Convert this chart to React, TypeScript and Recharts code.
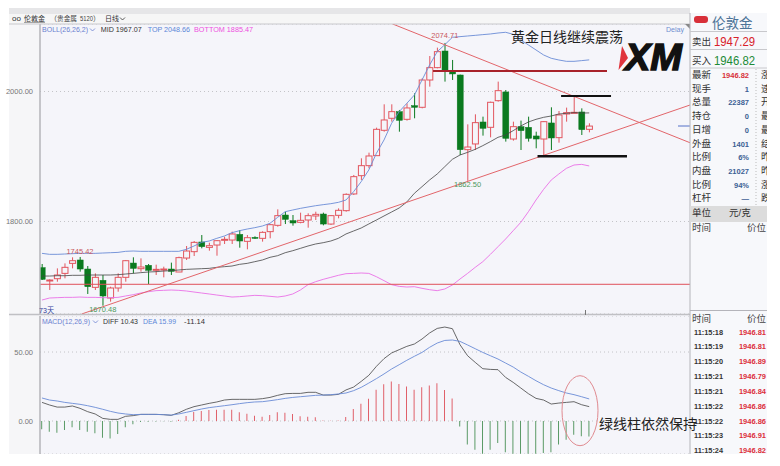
import React from 'react';
import {
    ComposedChart,
    Bar,
    Line,
    XAxis,
    YAxis,
    CartesianGrid,
    Cell,
    ReferenceLine,
    ReferenceDot
} from 'recharts';

// candles: open, high, low, close
const opens = [1729.0, 1709.5, 1712.0, 1720.2, 1735.6, 1740.8, 1726.9, 1698.7, 1709.5, 1682.3, 1697.7, 1714.1, 1736.1, 1727.4, 1732.6, 1724.9, 1725.4, 1726.9, 1722.3, 1743.8, 1753.6, 1768.5, 1760.2, 1763.8, 1771.5, 1771.5, 1780.2, 1769.5, 1775.6, 1774.1, 1784.4, 1794.1, 1810.0, 1801.3, 1798.7, 1802.3, 1808.5, 1811.5, 1796.1, 1809.5, 1816.7, 1842.4, 1870.5, 1885.9, 1901.3, 1940.3, 1958.8, 1969.0, 1957.2, 1978.2, 1975.7, 2017.7, 2036.7, 2062.3, 2031.6, 2025.4, 1910.5, 1919.3, 1953.1, 1944.9, 1985.9, 1999.3, 1926.9, 1945.9, 1944.9, 1931.6, 1926.9, 1951.6, 1929.0, 1965.4, 1966.4, 1968.5, 1941.8];
const highs = [1734.6, 1711.0, 1727.9, 1735.6, 1744.9, 1745.42, 1731.5, 1720.2, 1717.7, 1699.7, 1720.2, 1740.8, 1744.9, 1743.3, 1734.6, 1733.6, 1730.5, 1736.7, 1745.9, 1762.3, 1770.0, 1779.2, 1767.4, 1771.5, 1776.7, 1784.4, 1786.9, 1779.2, 1777.2, 1784.9, 1796.1, 1818.7, 1815.1, 1810.0, 1813.6, 1812.6, 1815.1, 1813.6, 1810.0, 1820.2, 1843.3, 1871.6, 1897.2, 1905.9, 1944.4, 1980.3, 1980.3, 1971.6, 1981.8, 1997.2, 2020.3, 2054.6, 2067.5, 2074.71, 2048.5, 2026.0, 1949.5, 1964.9, 1961.3, 1984.4, 2015.2, 2002.3, 1953.6, 1955.2, 1961.3, 1938.2, 1954.6, 1975.7, 1970.0, 1975.2, 1993.1, 1974.1, 1951.1];
const lows = [1710.0, 1694.6, 1707.4, 1712.6, 1727.9, 1722.8, 1688.5, 1694.6, 1670.48, 1676.7, 1692.0, 1707.4, 1720.2, 1722.8, 1703.8, 1717.7, 1714.1, 1717.7, 1722.3, 1740.8, 1746.9, 1758.7, 1755.1, 1747.4, 1765.4, 1765.4, 1759.7, 1757.2, 1773.1, 1769.0, 1774.1, 1792.0, 1796.1, 1793.6, 1797.2, 1790.5, 1802.3, 1794.1, 1794.6, 1804.9, 1815.1, 1840.8, 1863.9, 1881.8, 1900.8, 1938.2, 1953.6, 1938.2, 1955.2, 1958.8, 1974.1, 2007.5, 2035.7, 2015.2, 2017.7, 1902.3, 1862.5, 1910.0, 1932.1, 1929.5, 1984.4, 1922.9, 1924.4, 1910.0, 1922.9, 1912.6, 1902.3, 1910.0, 1921.3, 1953.6, 1966.4, 1933.1, 1937.2];
const closes = [1711.0, 1710.0, 1717.7, 1729.5, 1739.7, 1726.9, 1699.7, 1714.1, 1685.4, 1697.7, 1714.1, 1739.7, 1727.9, 1730.0, 1724.9, 1726.4, 1726.9, 1723.3, 1744.4, 1754.6, 1767.9, 1761.3, 1762.8, 1770.5, 1772.6, 1780.8, 1770.0, 1775.1, 1774.1, 1783.3, 1795.1, 1809.0, 1803.3, 1797.7, 1801.8, 1809.0, 1811.0, 1796.1, 1809.0, 1817.2, 1841.8, 1869.0, 1885.9, 1900.8, 1941.8, 1956.2, 1969.0, 1955.7, 1974.7, 1975.7, 2017.7, 2036.7, 2061.3, 2031.6, 2027.0, 1910.5, 1914.6, 1952.1, 1943.4, 1983.4, 2001.3, 1928.0, 1945.9, 1939.8, 1928.0, 1926.9, 1953.6, 1928.5, 1963.9, 1967.5, 1968.0, 1941.3, 1946.82];

// bollinger bands
const bollTop = [1751.0, 1749.5, 1749.5, 1750.0, 1750.5, 1751.0, 1751.0, 1751.0, 1751.5, 1752.0, 1752.5, 1754.1, 1754.6, 1754.1, 1754.1, 1754.1, 1754.1, 1754.1, 1754.1, 1757.2, 1762.3, 1767.9, 1770.0, 1774.1, 1777.7, 1782.8, 1785.9, 1788.4, 1790.5, 1793.1, 1797.2, 1806.4, 1815.1, 1817.7, 1820.2, 1822.3, 1824.3, 1825.9, 1827.4, 1829.5, 1833.1, 1845.9, 1861.3, 1879.3, 1904.9, 1925.4, 1951.1, 1969.0, 1981.8, 1994.6, 2017.7, 2040.8, 2061.3, 2072.0, 2083.4, 2084.4, 2085.4, 2086.4, 2087.5, 2088.5, 2090.0, 2091.1, 2088.0, 2079.3, 2071.6, 2063.9, 2056.2, 2051.1, 2048.5, 2046.4, 2046.4, 2047.5, 2048.66];
const bollMid = [1716.1, 1716.1, 1716.6, 1716.6, 1717.2, 1717.2, 1717.7, 1717.7, 1717.7, 1717.7, 1718.2, 1719.2, 1720.2, 1721.3, 1722.3, 1722.8, 1723.8, 1724.4, 1725.4, 1726.4, 1726.9, 1727.4, 1727.9, 1729.5, 1730.5, 1731.5, 1734.1, 1735.6, 1738.2, 1740.8, 1744.9, 1747.4, 1752.0, 1755.1, 1758.7, 1762.3, 1765.4, 1767.4, 1770.0, 1774.1, 1780.8, 1785.4, 1790.0, 1796.2, 1802.3, 1808.5, 1814.6, 1820.8, 1830.0, 1843.4, 1853.6, 1863.9, 1873.1, 1884.4, 1895.7, 1902.3, 1906.4, 1911.0, 1916.7, 1922.9, 1929.5, 1933.1, 1939.8, 1947.0, 1953.1, 1957.2, 1960.3, 1962.3, 1965.4, 1966.4, 1967.5, 1966.9, 1967.07];
const bollBottom = [1679.2, 1682.3, 1682.8, 1683.3, 1683.3, 1683.8, 1683.3, 1683.3, 1682.8, 1682.8, 1683.3, 1685.4, 1687.4, 1690.0, 1692.0, 1693.6, 1694.1, 1694.6, 1694.1, 1693.1, 1691.5, 1690.0, 1688.5, 1686.9, 1685.4, 1683.8, 1684.4, 1685.4, 1686.4, 1685.9, 1684.9, 1683.8, 1685.4, 1688.5, 1694.6, 1702.8, 1707.4, 1711.0, 1714.1, 1717.2, 1719.7, 1720.2, 1720.8, 1720.2, 1715.1, 1709.0, 1702.8, 1700.2, 1699.2, 1699.7, 1697.2, 1695.1, 1693.6, 1696.2, 1702.3, 1711.5, 1720.2, 1729.5, 1738.2, 1749.5, 1761.3, 1773.1, 1785.9, 1798.7, 1815.1, 1833.1, 1849.5, 1863.8, 1873.1, 1881.8, 1886.9, 1887.9, 1885.47];

// macd
const diff = [13.5, 11.6, 10.1, 10.1, 10.9, 9.2, 6.8, 5.1, 1.9, 1.2, 1.2, 3.4, 3.9, 4.8, 4.8, 4.8, 4.6, 4.1, 6.0, 8.5, 10.4, 11.6, 12.8, 13.8, 15.2, 15.7, 15.7, 15.7, 15.7, 16.2, 17.1, 18.6, 19.8, 20.0, 20.0, 20.8, 20.8, 18.8, 18.8, 19.3, 22.5, 24.6, 28.7, 33.1, 39.6, 45.2, 49.3, 51.7, 54.1, 55.8, 59.4, 63.8, 67.1, 68.1, 66.9, 55.3, 47.3, 42.5, 37.9, 37.4, 37.2, 31.6, 28.0, 23.9, 19.8, 16.4, 15.2, 12.3, 13.0, 13.5, 14.0, 11.8, 10.43];
const dea = [16.7, 15.2, 14.5, 13.5, 12.8, 12.1, 11.1, 9.9, 8.5, 7.0, 5.8, 5.1, 4.6, 4.8, 4.8, 4.8, 4.6, 4.3, 5.1, 6.3, 7.5, 8.7, 9.7, 10.4, 11.1, 11.8, 12.6, 13.3, 13.8, 14.0, 14.7, 15.5, 16.4, 17.1, 17.6, 18.1, 18.6, 18.8, 19.1, 19.6, 20.3, 22.0, 24.4, 27.5, 30.7, 34.1, 37.7, 40.8, 44.0, 46.9, 49.7, 53.4, 56.5, 58.4, 58.7, 57.7, 55.1, 52.4, 49.7, 47.3, 44.9, 42.0, 39.1, 35.5, 32.4, 29.2, 26.3, 23.9, 22.0, 20.3, 19.1, 17.6, 15.99];
const macdHist = [-6.0, -7.7, -8.5, -6.5, -4.6, -6.5, -7.7, -8.9, -12.1, -12.6, -9.4, -4.6, -2.4, -0.7, -0.5, -0.3, -0.2, -0.6, 1.0, 3.6, 6.5, 7.2, 8.0, 8.2, 8.2, 8.2, 6.3, 5.3, 3.9, 3.1, 4.3, 6.3, 6.0, 5.1, 3.4, 3.1, 2.7, 0.3, 0.2, 0.3, 2.9, 8.7, 12.6, 16.2, 22.7, 26.6, 28.7, 26.8, 25.1, 22.7, 24.4, 25.8, 27.3, 22.5, 16.4, -3.9, -17.1, -20.8, -23.7, -20.8, -15.9, -22.7, -23.7, -23.7, -23.7, -23.7, -23.2, -22.7, -17.1, -13.5, -9.9, -11.1, -11.14];

const priceTicks = [1800, 2000];
const macdTicks = [0, 50];

const quoteRows = [
    ['最新', '1946.82', '涨'], ['现手', '1', '速'], ['总量', '22387', '开'], ['持仓', '0', '最'], ['日增', '0', '最'],
    ['外盘', '1401', '结'], ['比例', '6%', '昨'], ['内盘', '21027', '昨'], ['比例', '94%', '涨'], ['杠杆', '—', '跌']
];
const tickTimes = ['11:15:18', '11:15:19', '11:15:20', '11:15:21', '11:15:21', '11:15:22', '11:15:22', '11:15:23', '11:15:24'];
const tickPrices = ['1946.81', '1946.81', '1946.89', '1946.79', '1946.84', '1946.86', '1946.86', '1946.91', '1946.82'];

const candleData = opens.map((open, i) => ({
    i,
    open,
    close: closes[i],
    high: highs[i],
    low: lows[i],
    range: [lows[i], highs[i]],
    top: bollTop[i],
    mid: bollMid[i],
    bottom: bollBottom[i]
}));
const macdData = macdHist.map((hist, i) => ({ i, hist, diff: diff[i], dea: dea[i] }));

const PANEL = '#f5f5fa';
const UP = '#e2555e';
const DOWN = '#0b7a1f';
const CJK = '"Liberation Sans","Noto Sans CJK SC",sans-serif';
const xDomain: [number, number] = [-0.26, 85.26];
const axisTick = { fill: '#777', fontSize: 7.5, fontFamily: 'Liberation Sans' };

const Candle = (props: any) => {
    const { x, y, width, height, payload } = props;
    const h = Math.abs(height);
    const top = height < 0 ? y + height : y;
    const unit = h / (payload.high - payload.low);
    const cx = x + width / 2;
    const up = payload.close >= payload.open;
    const color = up ? UP : DOWN;
    const bodyTop = top + (payload.high - Math.max(payload.open, payload.close)) * unit;
    const bodyH = Math.max(Math.abs(payload.open - payload.close) * unit, 1);
    return (
        <g>
            <line x1={cx} x2={cx} y1={top} y2={top + h} stroke={color} strokeWidth={1} />
            <rect x={cx - 3} y={bodyTop} width={6} height={bodyH} fill={up ? PANEL : DOWN} stroke={color} strokeWidth={up ? 1 : 0.5} />
        </g>
    );
};

const Txt = ({ x, y, fs = 9, fill = '#333', anchor = 'start', weight = 400, len, children }: any) => (
    <text
        x={x}
        y={y}
        fontSize={fs}
        fill={fill}
        textAnchor={anchor}
        fontWeight={weight}
        fontFamily={CJK}
        textLength={len}
        lengthAdjust={len ? 'spacingAndGlyphs' : undefined}
    >
        {children}
    </text>
);

const Chevron = ({ x, y, color }: any) => (
    <path d={`M${x} ${y} l2.5 2.5 l2.5 -2.5`} fill="none" stroke={color} strokeWidth={0.8} />
);

export default function App() {
    return (
        <div style={{ position: 'absolute', left: 0, top: 0, width: 780, height: 466, background: '#fff', overflow: 'hidden' }}>
            <div style={{ position: 'absolute', left: 9, top: 8, width: 681, height: 6, background: '#e6e6e8' }} />
            <div style={{ position: 'absolute', left: 9, top: 14, width: 681, height: 10, background: '#f6f6f6' }} />
            <div style={{ position: 'absolute', left: 9, top: 24, width: 31, height: 430, background: '#f6f6f8' }} />
            <div style={{ position: 'absolute', left: 40, top: 24, width: 650, height: 430, background: PANEL }} />
            <div style={{ position: 'absolute', left: 690, top: 13, width: 77, height: 441, background: '#f7f8fb' }} />

            {/* price chart */}
            <div style={{ position: 'absolute', left: 0, top: 24 }}>
                <ComposedChart width={690} height={290} data={candleData} margin={{ top: 0, right: 0, bottom: 0, left: 0 }}>
                    <CartesianGrid horizontal vertical={false} stroke="#c4c4c8" strokeDasharray="1 3" />
                    <XAxis dataKey="i" type="number" domain={xDomain} hide allowDataOverflow />
                    <YAxis
                        width={40}
                        domain={[1657.7, 2103.85]}
                        ticks={priceTicks}
                        tickFormatter={(v: number) => v.toFixed(2)}
                        tick={axisTick}
                        tickLine={false}
                        tickMargin={1}
                        axisLine={{ stroke: '#b4b4ba', strokeWidth: 1.5 }}
                        allowDataOverflow
                    />
                    <Bar dataKey="range" barSize={6} shape={Candle} isAnimationActive={false} />
                    <Line dataKey="top" stroke="#6a8bd6" strokeWidth={0.9} dot={false} activeDot={false} isAnimationActive={false} />
                    <Line dataKey="mid" stroke="#444" strokeWidth={0.8} dot={false} activeDot={false} isAnimationActive={false} />
                    <Line dataKey="bottom" stroke="#ea70e6" strokeWidth={0.9} dot={false} activeDot={false} isAnimationActive={false} />
                    <ReferenceLine y={1703.4} stroke="#e0505a" strokeWidth={1} />
                    <ReferenceLine segment={[{ x: 46.14, y: 2103.85 }, { x: 85.26, y: 1921.2 }]} stroke="#e2656a" strokeWidth={1} />
                    <ReferenceLine segment={[{ x: 5.22, y: 1657.7 }, { x: 85.26, y: 1979.2 }]} stroke="#e2656a" strokeWidth={1} />
                    <ReferenceLine segment={[{ x: 51.45, y: 2031.5 }, { x: 74.34, y: 2031.5 }]} stroke="#a8222a" strokeWidth={2} />
                    <ReferenceLine segment={[{ x: 68.3, y: 1993.1 }, { x: 74.87, y: 1993.1 }]} stroke="#111" strokeWidth={2} />
                    <ReferenceLine segment={[{ x: 65.2, y: 1900.3 }, { x: 76.97, y: 1900.3 }]} stroke="#111" strokeWidth={2.5} />
                    <ReferenceDot x={5} y={1745.42} r={0} label={{ value: '1745.42', position: 'top', offset: 3, fill: '#c8585e', fontSize: 7.5, fontFamily: 'Liberation Sans' }} />
                    <ReferenceDot x={53} y={2074.71} r={0} label={{ value: '2074.71', position: 'top', fill: '#c8585e', fontSize: 7.5, fontFamily: 'Liberation Sans' }} />
                    <ReferenceDot x={56} y={1862.5} r={0} label={{ value: '1862.50', position: 'bottom', offset: 1, fill: '#4f9a5c', fontSize: 7.5, fontFamily: 'Liberation Sans' }} />
                    <ReferenceDot x={8} y={1670.48} r={0} label={{ value: '1670.48', position: 'bottom', offset: 1, fill: '#4f9a5c', fontSize: 7.5, fontFamily: 'Liberation Sans' }} />
                </ComposedChart>
            </div>

            {/* macd chart */}
            <div style={{ position: 'absolute', left: 0, top: 316 }}>
                <ComposedChart width={690} height={138} data={macdData} margin={{ top: 0, right: 0, bottom: 0, left: 0 }}>
                    <CartesianGrid horizontal vertical={false} stroke="#c4c4c8" strokeDasharray="1 3" />
                    <XAxis dataKey="i" type="number" domain={xDomain} hide allowDataOverflow />
                    <YAxis
                        width={40}
                        domain={[-23.9, 76.1]}
                        ticks={macdTicks}
                        tickFormatter={(v: number) => v.toFixed(2)}
                        tick={axisTick}
                        tickLine={false}
                        tickMargin={1}
                        axisLine={{ stroke: '#b4b4ba', strokeWidth: 1.5 }}
                        allowDataOverflow
                    />
                    <Bar dataKey="hist" barSize={1} isAnimationActive={false}>
                        {macdData.map(d => (
                            <Cell key={d.i} fill={d.hist >= 0 ? '#e0606a' : '#5a9a66'} />
                        ))}
                    </Bar>
                    <Line dataKey="diff" stroke="#444" strokeWidth={0.8} dot={false} activeDot={false} isAnimationActive={false} />
                    <Line dataKey="dea" stroke="#6a8bd6" strokeWidth={0.9} dot={false} activeDot={false} isAnimationActive={false} />
                </ComposedChart>
            </div>

            {/* texts and annotations */}
            <svg width={780} height={466} style={{ position: 'absolute', left: 0, top: 0, pointerEvents: 'none' }}>
                <defs>
                    <clipPath id="panelClip"><rect x={690} y={13} width={77} height={441} /></clipPath>
                </defs>

                <line x1={9} x2={690} y1={24} y2={24} stroke="#c8c8cc" />
                <line x1={9} x2={690} y1={314.5} y2={314.5} stroke="#c0c0c4" strokeWidth={1.5} />
                <line x1={585.5} x2={585.5} y1={310} y2={315} stroke="#777" />
                <line x1={678} x2={690} y1={126} y2={126} stroke="#5470c8" />
                <path d="M685 24 L690 24 L690 29 Z" fill="#888" />

                <Txt x={12} y={21} fs={8} fill="#333">oo</Txt>
                <Txt x={24} y={21} fs={7} len={21} fill="#333">伦敦金</Txt>
                <line x1={24} x2={45} y1={22.5} y2={22.5} stroke="#555" strokeWidth={0.5} />
                <Txt x={50} y={21} fs={7} fill="#444">（</Txt>
                <Txt x={57} y={21} fs={7} len={20} fill="#444">贵金属</Txt>
                <Txt x={80} y={21} fs={6.5} len={13} fill="#444">5120</Txt>
                <Txt x={93} y={21} fs={7} fill="#444">）</Txt>
                <Txt x={105} y={21} fs={7} len={14} fill="#333">日线</Txt>
                <Chevron x={120} y={17.5} color="#333" />

                <Txt x={42} y={32} fs={7.6} len={46} fill="#6a80d0">BOLL(26,26,2)</Txt>
                <Chevron x={90} y={28.5} color="#6a80d0" />
                <Txt x={100.7} y={32} fs={7.6} len={41} fill="#333">MID 1967.07</Txt>
                <Txt x={147.7} y={32} fs={7.6} len={42.3} fill="#5a86d8">TOP 2048.66</Txt>
                <Txt x={194} y={32} fs={7.6} len={59} fill="#ee4fe0">BOTTOM 1885.47</Txt>
                <Txt x={39} y={313} fs={8} len={15} fill="#33409a">73天</Txt>

                <Txt x={42} y={324} fs={7.6} len={48} fill="#6a80d0">MACD(12,26,9)</Txt>
                <Chevron x={93} y={320.5} color="#6a80d0" />
                <Txt x={103} y={324} fs={7.6} len={35} fill="#333">DIFF 10.43</Txt>
                <Txt x={143} y={324} fs={7.6} len={33} fill="#5a86d8">DEA 15.99</Txt>
                <Txt x={184} y={324} fs={7.6} len={21} fill="#333">-11.14</Txt>

                <Txt x={666} y={32} fs={7.5} len={18} fill="#6f8fd0">Delay</Txt>
                <Txt x={511} y={42} fs={14} fill="#222">黄金日线继续震荡</Txt>

                {/* XM logo */}
                <path d="M622 46 L628 58 L618.5 70 Z" fill="#e0343c" />
                <text x={625} y={70} fontSize={36} fontWeight={700} fontStyle="italic" fontFamily="Liberation Sans" fill="#111" stroke="#111" strokeWidth={1.4} textLength={57} lengthAdjust="spacingAndGlyphs">XM</text>

                <ellipse cx={580} cy={410.7} rx={18} ry={35} fill="none" stroke="#e08a90" strokeWidth={1} />

                {/* right quote panel */}
                <line x1={690} x2={690} y1={13} y2={454} stroke="#b4b4ba" />
                <g clipPath="url(#panelClip)">
                    <rect x={694} y={16} width={14} height={7} rx={3} fill="#d8303a" />
                    <Txt x={712} y={28} fs={13.5} fill="#4d7498">伦敦金</Txt>
                    <line x1={690} x2={767} y1={31.5} y2={31.5} stroke="#c8c8cc" />
                    <Txt x={692} y={45} fs={9.5} fill="#333">卖出</Txt>
                    <Txt x={714} y={46} fs={12.5} len={41} fill="#d8202a">1947.29</Txt>
                    <line x1={690} x2={767} y1={49.5} y2={49.5} stroke="#c8c8cc" />
                    <Txt x={692} y={64} fs={9.5} fill="#333">买入</Txt>
                    <Txt x={714} y={65} fs={12.5} len={41} fill="#1c8a36">1946.82</Txt>
                    <line x1={690} x2={767} y1={68} y2={68} stroke="#c8c8cc" />
                    <line x1={756} x2={756} y1={69} y2={205} stroke="#bbb" strokeDasharray="1 2" />
                    {quoteRows.map((row, i) => {
                        const y = 78 + i * 13.7;
                        return (
                            <g key={i}>
                                <Txt x={692} y={y} fs={9.5} fill="#333">{row[0]}</Txt>
                                <Txt x={749} y={y} fs={7.5} anchor="end" weight={700} fill={i === 0 ? '#d8303a' : '#3b5f94'}>{row[1]}</Txt>
                                <Txt x={761} y={y} fs={9.5} fill="#333">{row[2]}</Txt>
                            </g>
                        );
                    })}
                    <rect x={690} y={206} width={77} height={16} fill="#dcdcdc" />
                    <Txt x={692} y={216} fs={9.5} fill="#333">单位</Txt>
                    <Txt x={729} y={216} fs={9.5} fill="#333">元/克</Txt>
                    <Txt x={692} y={231} fs={9.5} fill="#444">时间</Txt>
                    <Txt x={766} y={231} fs={9.5} anchor="end" fill="#444">价位</Txt>
                    <line x1={690} x2={767} y1={310.5} y2={310.5} stroke="#b4b4ba" />
                    <Txt x={692} y={322} fs={9.5} fill="#444">时间</Txt>
                    <Txt x={766} y={322} fs={9.5} anchor="end" fill="#444">价位</Txt>
                    {tickTimes.map((t, i) => {
                        const y = 334.5 + i * 14.85;
                        return (
                            <g key={i}>
                                <Txt x={694} y={y} fs={7.5} len={29} weight={700} fill="#333">{t}</Txt>
                                <Txt x={766} y={y} fs={7.5} anchor="end" weight={700} fill="#dc2f3c">{tickPrices[i]}</Txt>
                            </g>
                        );
                    })}
                </g>
                <Txt x={599} y={429} fs={14} fill="#222">绿线柱依然保持</Txt>
            </svg>
        </div>
    );
}
